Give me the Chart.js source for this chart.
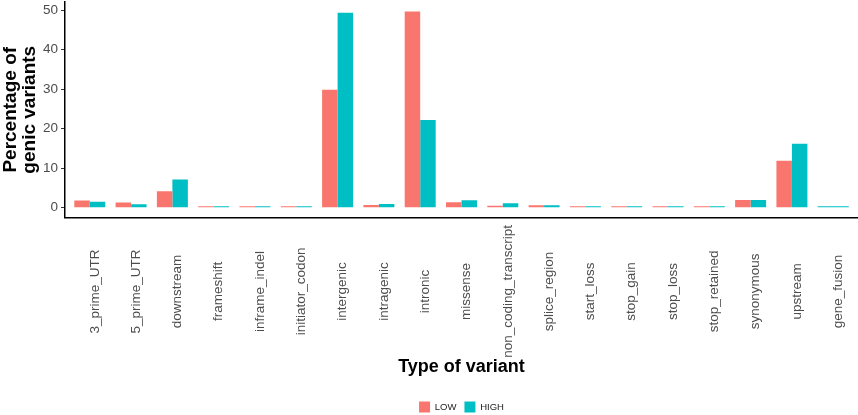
<!DOCTYPE html>
<html>
<head>
<meta charset="utf-8">
<script src="https://cdn.jsdelivr.net/npm/chart.js@4"></script>
<style>
  body { margin: 0; background: #fff; }
  #wrap { width: 858px; height: 415px; }
</style>
</head>
<body>
<div id="wrap"><canvas id="chart"></canvas></div>
<script>
const categories = [
  "3_prime_UTR", "5_prime_UTR", "downstream", "frameshift", "inframe_indel",
  "initiator_codon", "intergenic", "intragenic", "intronic", "missense",
  "non_coding_transcript", "splice_region", "start_loss", "stop_gain",
  "stop_loss", "stop_retained", "synonymous", "upstream", "gene_fusion",
];
const lowValues = [1.85, 1.35, 4.2, 0.4, 0.4, 0.4, 29.9, 0.68, 49.7, 1.36,
  0.5, 0.65, 0.4, 0.4, 0.4, 0.4, 1.94, 11.9, null];
const highValues = [1.5, 0.85, 7.15, 0.4, 0.4, 0.4, 49.4, 0.93, 22.2, 1.87,
  1.1, 0.6, 0.4, 0.4, 0.4, 0.4, 1.94, 16.2, 0.35];
const yTicks = [0, 10, 20, 30, 40, 50];

const FONT = '"Liberation Sans", Arial, sans-serif';

// ggplot-style tick labels: rotated 90deg and centred in the label band
const centredLabels = {
  id: "centredLabels",
  afterDraw(chart) {
    const xs = chart.scales.x;
    const ctx = chart.ctx;
    ctx.save();
    ctx.font = "13.5px " + FONT;
    ctx.fillStyle = "#4D4D4D";
    const maxW = Math.max(...categories.map((c) => ctx.measureText(c).width));
    const yc = xs.top + 7.5 + maxW / 2;
    categories.forEach((c, i) => {
      ctx.save();
      ctx.translate(xs.getPixelForTick(i) + 5, yc);
      ctx.rotate(-Math.PI / 2);
      ctx.textAlign = "center";
      ctx.textBaseline = "middle";
      ctx.fillText(c, 0, 0);
      ctx.restore();
    });
    ctx.restore();
  },
};

const ctx = document.getElementById("chart");

const chart = new Chart(ctx, {
  type: "bar",
  data: {
    labels: categories,
    datasets: [
      {
        label: "LOW",
        data: lowValues,
        backgroundColor: "#F8766D",
        borderWidth: 0,
        skipNull: true,
      },
      {
        label: "HIGH",
        data: highValues,
        backgroundColor: "#00BFC4",
        borderWidth: 0,
        skipNull: true,
      },
    ],
  },
  options: {
    responsive: true,
    maintainAspectRatio: false,
    animation: false,
    layout: { padding: { top: 2, right: 0, bottom: -7.5 } },
    datasets: {
      bar: { categoryPercentage: 0.75, barPercentage: 1 },
    },
    plugins: {
      tooltip: { enabled: false },
      legend: {
        position: "bottom",
        fullSize: false,
        labels: {
          boxWidth: 11,
          boxHeight: 11,
          padding: 8,
          color: "#222",
          font: { family: FONT, size: 9.5 },
        },
      },
    },
    scales: {
      x: {
        offset: true,
        grid: { display: false },
        border: { display: true, color: "#000", width: 1.5 },
        ticks: { display: false },
        title: {
          display: true,
          text: "Type of variant",
          color: "#000",
          font: { family: FONT, size: 18, weight: "bold" },
          padding: { top: 0, bottom: 15.7 },
        },
        // ggplot discrete expansion (0.6 of a category on each side)
        afterBuildTicks(scale) {
          scale._startValue = -0.6;
          scale._valueRange = categories.length - 1 + 1.2;
        },
        afterFit(scale) {
          scale.height = 176;
        },
      },
      y: {
        min: -2.48,
        max: 52.1,
        grid: {
          drawOnChartArea: false,
          drawTicks: true,
          tickLength: 4,
          color: "#333",
        },
        border: { display: true, color: "#000", width: 1.5 },
        ticks: {
          padding: 3,
          color: "#4D4D4D",
          font: { family: FONT, size: 13.5 },
        },
        afterBuildTicks(scale) {
          scale.ticks = yTicks.map((v) => ({ value: v }));
        },
        title: {
          display: true,
          text: ["Percentage of", "genic variants"],
          color: "#000",
          font: { family: FONT, size: 19, weight: "bold", lineHeight: 0.96 },
          padding: { top: 2, bottom: 0 },
        },
        afterFit(scale) {
          scale.width = 65;
          scale.paddingTop = 0;
          scale.paddingBottom = 0;
        },
      },
    },
  },
  plugins: [centredLabels],
});
</script>
</body>
</html>
